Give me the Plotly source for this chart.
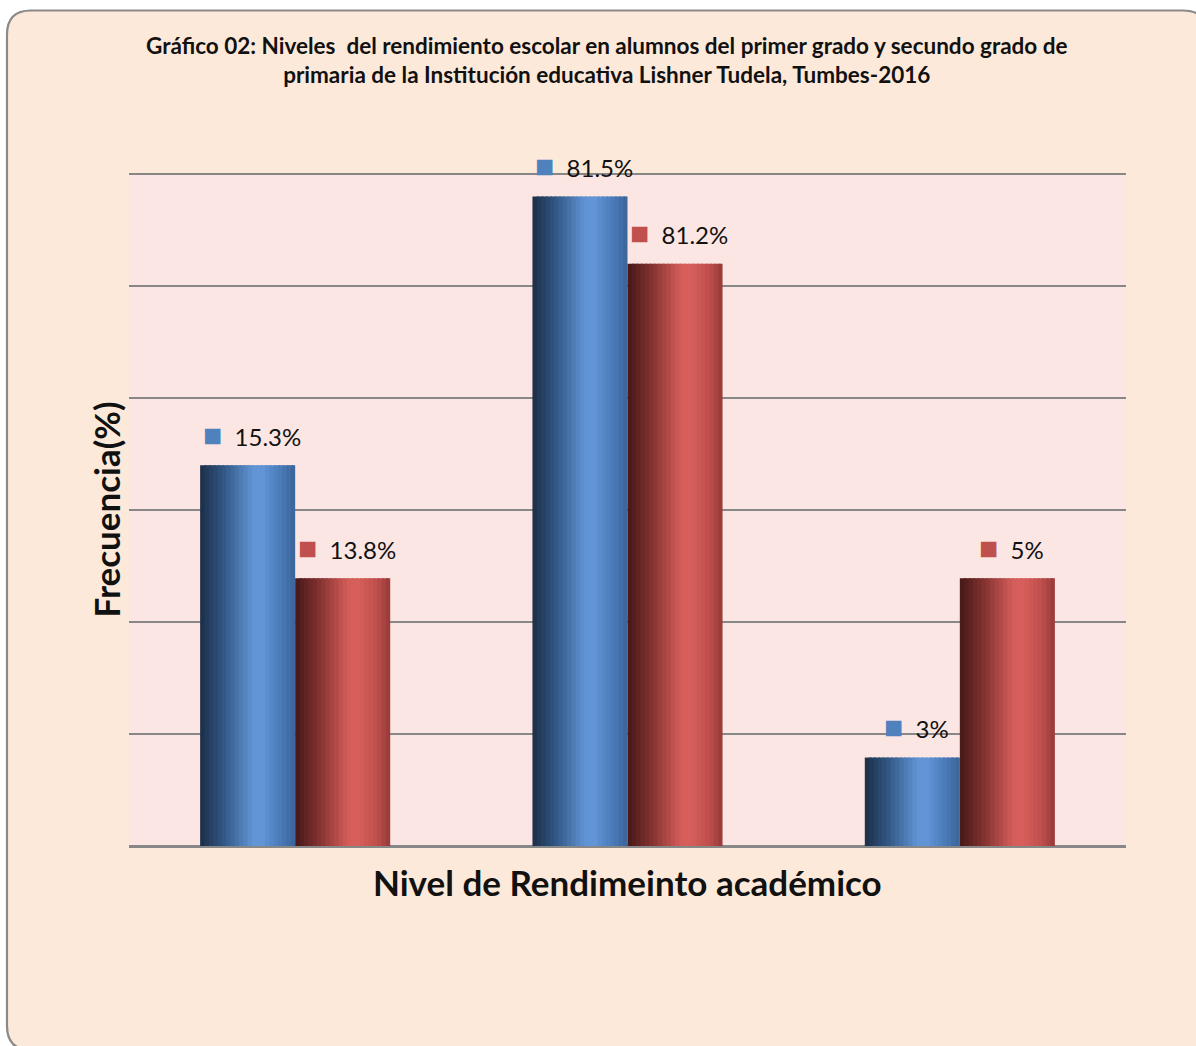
import plotly.graph_objects as go

# ---------------- data ----------------
categories = ["Inicio", "Proceso", "Logro"]
series_names = ["Primer grado", "Segundo grado"]
bar_primer = [34.0, 58.0, 7.9]        # bar heights as drawn
bar_segundo = [23.9, 52.0, 23.9]
label_primer = ["15.3%", "81.5%", "3%"]
label_segundo = ["13.8%", "81.2%", "5%"]

title_text = ("Gráfico 02: Niveles  del rendimiento escolar en alumnos del primer grado y secundo grado de<br>"
              "primaria de la Institución educativa Lishner Tudela, Tumbes-2016")
x_title = "Nivel de Rendimeinto académico"
y_title = "Frecuencia(%)"

# ---------------- style ----------------
W, H = 1196, 1046
YMAX = 60.1
ML, MR, MT, MB = 129, 70, 173, 200
PW, PH = W - ML - MR, H - MT - MB
FONT = "Lato"
GRID = "#878787"
BLUE_KEY = "#4F81BD"
RED_KEY = "#C0504D"

blue_stops = [(0.0, (28, 46, 70)), (0.25, (50, 88, 134)), (0.55, (96, 147, 212)),
              (0.65, (98, 150, 214)), (0.85, (74, 122, 184)), (1.0, (60, 100, 152))]
red_stops = [(0.0, (70, 24, 24)), (0.25, (130, 50, 48)), (0.55, (210, 92, 88)),
             (0.65, (216, 96, 92)), (0.85, (192, 80, 77)), (1.0, (150, 58, 56))]


def interp(stops, t):
    for (t0, c0), (t1, c1) in zip(stops[:-1], stops[1:]):
        if t0 <= t <= t1:
            f = (t - t0) / (t1 - t0) if t1 > t0 else 0
            return "rgb(%d,%d,%d)" % tuple(round(a + (b - a) * f) for a, b in zip(c0, c1))
    return "rgb(%d,%d,%d)" % stops[-1][1]


BW = 0.286     # bar width in category units
NS = 22        # gradient slices per bar

fig = go.Figure()
for vals, name, stops, start in [(bar_primer, series_names[0], blue_stops, -BW),
                                 (bar_segundo, series_names[1], red_stops, 0.0)]:
    sw = BW / NS
    for i in range(NS):
        off = start + i * sw
        w = min(sw * 1.6, start + BW - off)
        fig.add_trace(go.Bar(
            x=categories, y=vals, name=name, width=w, offset=off,
            marker=dict(color=interp(stops, (i + 0.5) / NS), line=dict(width=0)),
            showlegend=False, hoverinfo="skip"))

# data labels with legend keys
annotations = []
for vals, labels, col, center in [(bar_primer, label_primer, BLUE_KEY, -BW / 2),
                                  (bar_segundo, label_segundo, RED_KEY, BW / 2)]:
    for ci, (v, lab) in enumerate(zip(vals, labels)):
        annotations.append(dict(
            x=ci + center, y=v, xref="x", yref="y", showarrow=False,
            xanchor="center", yanchor="middle", yshift=32, xshift=4,
            text='<span style="color:%s;font-size:32px">■</span>  %s' % (col, lab),
            font=dict(family=FONT, size=24, color="#111111")))

# titles
annotations.append(dict(text="<b>%s</b>" % title_text, x=(606.5 - ML) / PW, y=(H - MB - 60.5) / PH,
                        xref="paper", yref="paper", showarrow=False,
                        xanchor="center", yanchor="middle",
                        font=dict(family=FONT, size=22.5, color="#111111"), align="center"))
annotations.append(dict(text="<b>%s</b>" % x_title, x=0.5, y=(H - MB - 882) / PH,
                        xref="paper", yref="paper", showarrow=False,
                        xanchor="center", yanchor="middle",
                        font=dict(family=FONT, size=35, color="#111111")))
annotations.append(dict(text="<b>%s</b>" % y_title, x=(105 - ML) / PW, y=0.5,
                        xref="paper", yref="paper", showarrow=False, textangle=-90,
                        xanchor="center", yanchor="middle",
                        font=dict(family=FONT, size=35, color="#111111")))

# rounded chart box (decoration)
def px(x):
    return (x - ML) / PW


def py(y):
    return (H - MB - y) / PH


x0, x1, yt, yb, r = 7, 1207, 10.5, 1050, 24
path = ("M %f %f L %f %f Q %f %f %f %f L %f %f Q %f %f %f %f L %f %f Q %f %f %f %f L %f %f Q %f %f %f %f Z" % (
    px(x0 + r), py(yt), px(x1 - r), py(yt),
    px(x1), py(yt), px(x1), py(yt + r),
    px(x1), py(yb - r),
    px(x1), py(yb), px(x1 - r), py(yb),
    px(x0 + r), py(yb),
    px(x0), py(yb), px(x0), py(yb - r),
    px(x0), py(yt + r),
    px(x0), py(yt), px(x0 + r), py(yt)))

fig.update_layout(
    width=W, height=H,
    margin=dict(l=ML, r=MR, t=MT, b=MB),
    paper_bgcolor="white", plot_bgcolor="#FCE6E3",
    barmode="overlay", showlegend=False,
    annotations=annotations,
    shapes=[dict(type="path", path=path, xref="paper", yref="paper", layer="below",
                 fillcolor="#FDE9DA", line=dict(color="#8A8A8A", width=2.2)),
            dict(type="rect", x0=0, x1=1, y0=0, y1=1, xref="paper", yref="paper",
                 layer="below", fillcolor="#FCE6E3", line=dict(width=0))],
    xaxis=dict(type="category", range=[-0.5, 2.5], showticklabels=False, ticks="",
               showgrid=False, showline=True, linecolor=GRID, linewidth=2, zeroline=False),
    yaxis=dict(range=[0, YMAX], dtick=10, showticklabels=False, ticks="",
               showgrid=True, gridcolor=GRID, gridwidth=2.2,
               zeroline=True, zerolinecolor=GRID, zerolinewidth=2, showline=False),
)

fig.write_html("out.html", config={"displayModeBar": False},
               post_script="document.body.style.margin='0';")
